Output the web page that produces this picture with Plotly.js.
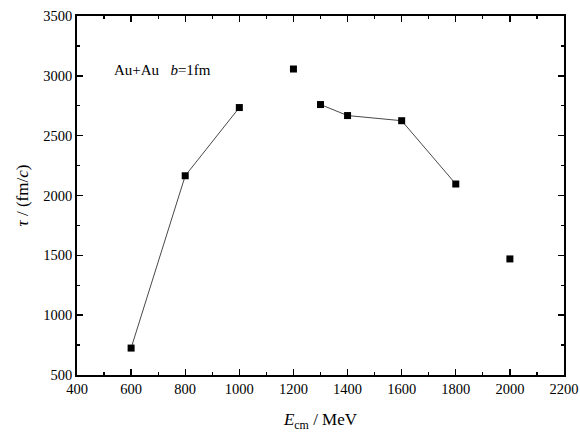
<!DOCTYPE html>
<html>
<head>
<meta charset="utf-8">
<script src="https://cdn.plot.ly/plotly-3.0.1.min.js"></script>
<style>html,body{margin:0;padding:0;background:#fff;}#plot{width:580px;height:436px;}</style>
</head>
<body>
<div id="plot"></div>
<script>
const energy = [600, 800, 1000, 1200, 1300, 1400, 1600, 1800, 2000];
const tau = [725, 2165, 2735, 3057, 2760, 2668, 2625, 2096, 1470];
// segments whose connecting line is visible in the reference
const lineGroupA = [0, 1, 2];
const lineGroupB = [4, 5, 6, 7];
const annotationText = 'Au+Au&nbsp;&nbsp;&nbsp;<i>b</i>=1fm';

const pick = (idx, arr) => idx.map(i => arr[i]);
const font = {family: 'Liberation Serif, Times New Roman, serif', color: '#000'};

const traces = [
  {x: pick(lineGroupA, energy), y: pick(lineGroupA, tau), mode: 'lines',
   line: {color: '#333', width: 0.9}, hoverinfo: 'skip'},
  {x: pick(lineGroupB, energy), y: pick(lineGroupB, tau), mode: 'lines',
   line: {color: '#333', width: 0.9}, hoverinfo: 'skip'},
  {x: energy, y: tau, mode: 'markers',
   marker: {symbol: 'square', size: 7, color: '#000'}}
];

const axisCommon = {
  showgrid: false, zeroline: false, showline: true, linecolor: '#000', linewidth: 1.8,
  mirror: 'ticks', ticks: 'inside', ticklen: 6, tickwidth: 1.4, tickcolor: '#000',
  tickfont: Object.assign({size: 14.5}, font)
};

const layout = {
  width: 580, height: 436,
  margin: {l: 77, r: 16, t: 16, b: 61},
  paper_bgcolor: '#fff', plot_bgcolor: '#fff',
  showlegend: false,
  xaxis: Object.assign({}, axisCommon, {
    range: [400, 2200], dtick: 200, tick0: 400,
    minor: {dtick: 100, ticks: 'inside', ticklen: 3, tickwidth: 1.2, tickcolor: '#000'},
    title: {text: '<i>E</i><sub>cm</sub> / MeV', font: Object.assign({size: 17}, font), standoff: 17}
  }),
  yaxis: Object.assign({}, axisCommon, {
    range: [500, 3500], dtick: 500, tick0: 500,
    minor: {dtick: 250, ticks: 'inside', ticklen: 3, tickwidth: 1.2, tickcolor: '#000'},
    title: {text: '<i>τ</i> / (fm/<i>c</i>)', font: Object.assign({size: 17}, font), standoff: 10}
  }),
  annotations: [{
    x: 0.072, y: 3050, xref: 'paper', yref: 'y', xanchor: 'left', yanchor: 'middle',
    text: annotationText, showarrow: false, font: Object.assign({size: 15}, font)
  }]
};

Plotly.newPlot('plot', traces, layout, {staticPlot: true, displayModeBar: false});
</script>
</body>
</html>
